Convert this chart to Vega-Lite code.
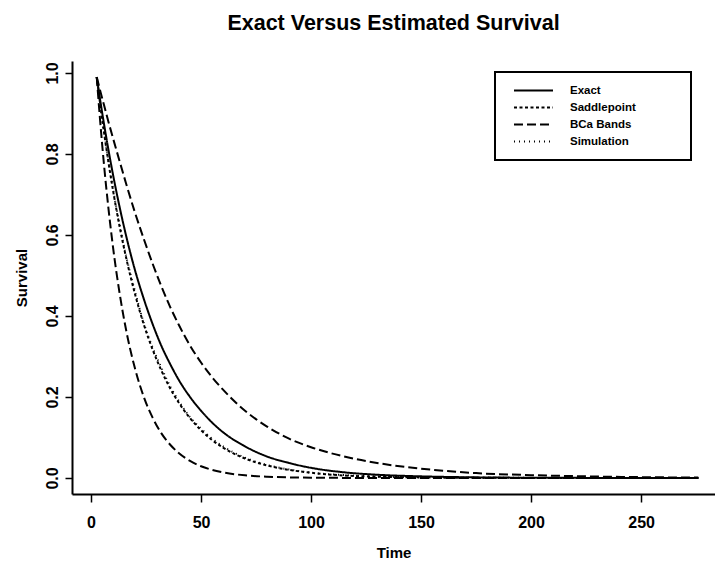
{
  "$schema": "https://vega.github.io/schema/vega-lite/v6.json",
  "width": 643,
  "height": 433,
  "autosize": {"type": "none"},
  "padding": {"left": 72, "top": 61, "right": 0, "bottom": 70},
  "background": "white",
  "title": {
    "text": "Exact Versus Estimated Survival",
    "font": "Liberation Sans",
    "fontSize": 21.5,
    "fontWeight": "bold",
    "color": "black",
    "anchor": "middle",
    "frame": "group",
    "baseline": "alphabetic",
    "offset": 10
  },
  "config": {
    "view": {"stroke": null},
    "axis": {
      "labelFont": "Liberation Sans",
      "titleFont": "Liberation Sans",
      "labelColor": "black",
      "titleColor": "black",
      "domainColor": "black",
      "tickColor": "black",
      "labelFontWeight": "bold",
      "titleFontWeight": "bold",
      "grid": false
    }
  },
  "datasets": {
    "curves": [
      {"time": 2.6, "survival": 0.99, "series": "Exact", "curve": "Exact"},
      {"time": 4, "survival": 0.939, "series": "Exact", "curve": "Exact"},
      {"time": 6, "survival": 0.871, "series": "Exact", "curve": "Exact"},
      {"time": 8, "survival": 0.808, "series": "Exact", "curve": "Exact"},
      {"time": 10, "survival": 0.749, "series": "Exact", "curve": "Exact"},
      {"time": 13, "survival": 0.669, "series": "Exact", "curve": "Exact"},
      {"time": 16, "survival": 0.597, "series": "Exact", "curve": "Exact"},
      {"time": 20, "survival": 0.513, "series": "Exact", "curve": "Exact"},
      {"time": 24, "survival": 0.442, "series": "Exact", "curve": "Exact"},
      {"time": 28, "survival": 0.38, "series": "Exact", "curve": "Exact"},
      {"time": 32, "survival": 0.326, "series": "Exact", "curve": "Exact"},
      {"time": 36, "survival": 0.281, "series": "Exact", "curve": "Exact"},
      {"time": 40, "survival": 0.241, "series": "Exact", "curve": "Exact"},
      {"time": 45, "survival": 0.2, "series": "Exact", "curve": "Exact"},
      {"time": 50, "survival": 0.166, "series": "Exact", "curve": "Exact"},
      {"time": 55, "survival": 0.137, "series": "Exact", "curve": "Exact"},
      {"time": 60, "survival": 0.113, "series": "Exact", "curve": "Exact"},
      {"time": 70, "survival": 0.078, "series": "Exact", "curve": "Exact"},
      {"time": 80, "survival": 0.053, "series": "Exact", "curve": "Exact"},
      {"time": 90, "survival": 0.037, "series": "Exact", "curve": "Exact"},
      {"time": 100, "survival": 0.025, "series": "Exact", "curve": "Exact"},
      {"time": 115, "survival": 0.014, "series": "Exact", "curve": "Exact"},
      {"time": 130, "survival": 0.008, "series": "Exact", "curve": "Exact"},
      {"time": 150, "survival": 0.004, "series": "Exact", "curve": "Exact"},
      {"time": 175, "survival": 0.0015, "series": "Exact", "curve": "Exact"},
      {"time": 200, "survival": 0.0006, "series": "Exact", "curve": "Exact"},
      {"time": 225, "survival": 0.0002, "series": "Exact", "curve": "Exact"},
      {"time": 250, "survival": 0.0001, "series": "Exact", "curve": "Exact"},
      {"time": 276, "survival": 0.0, "series": "Exact", "curve": "Exact"},

      {"time": 2.6, "survival": 0.99, "series": "Saddlepoint", "curve": "Saddlepoint"},
      {"time": 4, "survival": 0.93, "series": "Saddlepoint", "curve": "Saddlepoint"},
      {"time": 6, "survival": 0.85, "series": "Saddlepoint", "curve": "Saddlepoint"},
      {"time": 8, "survival": 0.777, "series": "Saddlepoint", "curve": "Saddlepoint"},
      {"time": 10, "survival": 0.71, "series": "Saddlepoint", "curve": "Saddlepoint"},
      {"time": 13, "survival": 0.621, "series": "Saddlepoint", "curve": "Saddlepoint"},
      {"time": 16, "survival": 0.543, "series": "Saddlepoint", "curve": "Saddlepoint"},
      {"time": 20, "survival": 0.454, "series": "Saddlepoint", "curve": "Saddlepoint"},
      {"time": 24, "survival": 0.379, "series": "Saddlepoint", "curve": "Saddlepoint"},
      {"time": 28, "survival": 0.317, "series": "Saddlepoint", "curve": "Saddlepoint"},
      {"time": 32, "survival": 0.265, "series": "Saddlepoint", "curve": "Saddlepoint"},
      {"time": 36, "survival": 0.221, "series": "Saddlepoint", "curve": "Saddlepoint"},
      {"time": 40, "survival": 0.185, "series": "Saddlepoint", "curve": "Saddlepoint"},
      {"time": 45, "survival": 0.148, "series": "Saddlepoint", "curve": "Saddlepoint"},
      {"time": 50, "survival": 0.118, "series": "Saddlepoint", "curve": "Saddlepoint"},
      {"time": 55, "survival": 0.094, "series": "Saddlepoint", "curve": "Saddlepoint"},
      {"time": 60, "survival": 0.075, "series": "Saddlepoint", "curve": "Saddlepoint"},
      {"time": 70, "survival": 0.048, "series": "Saddlepoint", "curve": "Saddlepoint"},
      {"time": 80, "survival": 0.031, "series": "Saddlepoint", "curve": "Saddlepoint"},
      {"time": 90, "survival": 0.02, "series": "Saddlepoint", "curve": "Saddlepoint"},
      {"time": 100, "survival": 0.013, "series": "Saddlepoint", "curve": "Saddlepoint"},
      {"time": 115, "survival": 0.006, "series": "Saddlepoint", "curve": "Saddlepoint"},
      {"time": 130, "survival": 0.0033, "series": "Saddlepoint", "curve": "Saddlepoint"},
      {"time": 150, "survival": 0.0013, "series": "Saddlepoint", "curve": "Saddlepoint"},
      {"time": 175, "survival": 0.0004, "series": "Saddlepoint", "curve": "Saddlepoint"},
      {"time": 200, "survival": 0.0001, "series": "Saddlepoint", "curve": "Saddlepoint"},
      {"time": 225, "survival": 0.0, "series": "Saddlepoint", "curve": "Saddlepoint"},
      {"time": 250, "survival": 0.0, "series": "Saddlepoint", "curve": "Saddlepoint"},
      {"time": 276, "survival": 0.0, "series": "Saddlepoint", "curve": "Saddlepoint"},

      {"time": 2.6, "survival": 0.99, "series": "BCa Bands", "curve": "BCa lower"},
      {"time": 4, "survival": 0.892, "series": "BCa Bands", "curve": "BCa lower"},
      {"time": 6, "survival": 0.768, "series": "BCa Bands", "curve": "BCa lower"},
      {"time": 8, "survival": 0.662, "series": "BCa Bands", "curve": "BCa lower"},
      {"time": 10, "survival": 0.57, "series": "BCa Bands", "curve": "BCa lower"},
      {"time": 13, "survival": 0.456, "series": "BCa Bands", "curve": "BCa lower"},
      {"time": 16, "survival": 0.364, "series": "BCa Bands", "curve": "BCa lower"},
      {"time": 20, "survival": 0.27, "series": "BCa Bands", "curve": "BCa lower"},
      {"time": 24, "survival": 0.2, "series": "BCa Bands", "curve": "BCa lower"},
      {"time": 28, "survival": 0.149, "series": "BCa Bands", "curve": "BCa lower"},
      {"time": 32, "survival": 0.11, "series": "BCa Bands", "curve": "BCa lower"},
      {"time": 36, "survival": 0.082, "series": "BCa Bands", "curve": "BCa lower"},
      {"time": 40, "survival": 0.061, "series": "BCa Bands", "curve": "BCa lower"},
      {"time": 45, "survival": 0.042, "series": "BCa Bands", "curve": "BCa lower"},
      {"time": 50, "survival": 0.029, "series": "BCa Bands", "curve": "BCa lower"},
      {"time": 55, "survival": 0.02, "series": "BCa Bands", "curve": "BCa lower"},
      {"time": 60, "survival": 0.0137, "series": "BCa Bands", "curve": "BCa lower"},
      {"time": 70, "survival": 0.0065, "series": "BCa Bands", "curve": "BCa lower"},
      {"time": 80, "survival": 0.0031, "series": "BCa Bands", "curve": "BCa lower"},
      {"time": 90, "survival": 0.0015, "series": "BCa Bands", "curve": "BCa lower"},
      {"time": 100, "survival": 0.0007, "series": "BCa Bands", "curve": "BCa lower"},
      {"time": 115, "survival": 0.0002, "series": "BCa Bands", "curve": "BCa lower"},
      {"time": 130, "survival": 0.0001, "series": "BCa Bands", "curve": "BCa lower"},
      {"time": 150, "survival": 0.0, "series": "BCa Bands", "curve": "BCa lower"},
      {"time": 175, "survival": 0.0, "series": "BCa Bands", "curve": "BCa lower"},
      {"time": 200, "survival": 0.0, "series": "BCa Bands", "curve": "BCa lower"},
      {"time": 225, "survival": 0.0, "series": "BCa Bands", "curve": "BCa lower"},
      {"time": 250, "survival": 0.0, "series": "BCa Bands", "curve": "BCa lower"},
      {"time": 276, "survival": 0.0, "series": "BCa Bands", "curve": "BCa lower"},

      {"time": 2.6, "survival": 0.99, "series": "BCa Bands", "curve": "BCa upper"},
      {"time": 4, "survival": 0.96, "series": "BCa Bands", "curve": "BCa upper"},
      {"time": 6, "survival": 0.919, "series": "BCa Bands", "curve": "BCa upper"},
      {"time": 8, "survival": 0.878, "series": "BCa Bands", "curve": "BCa upper"},
      {"time": 10, "survival": 0.839, "series": "BCa Bands", "curve": "BCa upper"},
      {"time": 13, "survival": 0.782, "series": "BCa Bands", "curve": "BCa upper"},
      {"time": 16, "survival": 0.726, "series": "BCa Bands", "curve": "BCa upper"},
      {"time": 20, "survival": 0.655, "series": "BCa Bands", "curve": "BCa upper"},
      {"time": 24, "survival": 0.59, "series": "BCa Bands", "curve": "BCa upper"},
      {"time": 28, "survival": 0.529, "series": "BCa Bands", "curve": "BCa upper"},
      {"time": 32, "survival": 0.473, "series": "BCa Bands", "curve": "BCa upper"},
      {"time": 36, "survival": 0.422, "series": "BCa Bands", "curve": "BCa upper"},
      {"time": 40, "survival": 0.377, "series": "BCa Bands", "curve": "BCa upper"},
      {"time": 45, "survival": 0.327, "series": "BCa Bands", "curve": "BCa upper"},
      {"time": 50, "survival": 0.285, "series": "BCa Bands", "curve": "BCa upper"},
      {"time": 55, "survival": 0.249, "series": "BCa Bands", "curve": "BCa upper"},
      {"time": 60, "survival": 0.218, "series": "BCa Bands", "curve": "BCa upper"},
      {"time": 70, "survival": 0.166, "series": "BCa Bands", "curve": "BCa upper"},
      {"time": 80, "survival": 0.127, "series": "BCa Bands", "curve": "BCa upper"},
      {"time": 90, "survival": 0.097, "series": "BCa Bands", "curve": "BCa upper"},
      {"time": 100, "survival": 0.076, "series": "BCa Bands", "curve": "BCa upper"},
      {"time": 115, "survival": 0.053, "series": "BCa Bands", "curve": "BCa upper"},
      {"time": 130, "survival": 0.037, "series": "BCa Bands", "curve": "BCa upper"},
      {"time": 150, "survival": 0.023, "series": "BCa Bands", "curve": "BCa upper"},
      {"time": 175, "survival": 0.012, "series": "BCa Bands", "curve": "BCa upper"},
      {"time": 200, "survival": 0.007, "series": "BCa Bands", "curve": "BCa upper"},
      {"time": 225, "survival": 0.004, "series": "BCa Bands", "curve": "BCa upper"},
      {"time": 250, "survival": 0.002, "series": "BCa Bands", "curve": "BCa upper"},
      {"time": 276, "survival": 0.001, "series": "BCa Bands", "curve": "BCa upper"},

      {"time": 2.6, "survival": 0.99, "series": "Simulation", "curve": "Simulation"},
      {"time": 4, "survival": 0.931, "series": "Simulation", "curve": "Simulation"},
      {"time": 6, "survival": 0.852, "series": "Simulation", "curve": "Simulation"},
      {"time": 8, "survival": 0.78, "series": "Simulation", "curve": "Simulation"},
      {"time": 10, "survival": 0.714, "series": "Simulation", "curve": "Simulation"},
      {"time": 13, "survival": 0.625, "series": "Simulation", "curve": "Simulation"},
      {"time": 16, "survival": 0.547, "series": "Simulation", "curve": "Simulation"},
      {"time": 20, "survival": 0.461, "series": "Simulation", "curve": "Simulation"},
      {"time": 24, "survival": 0.382, "series": "Simulation", "curve": "Simulation"},
      {"time": 28, "survival": 0.322, "series": "Simulation", "curve": "Simulation"},
      {"time": 32, "survival": 0.272, "series": "Simulation", "curve": "Simulation"},
      {"time": 36, "survival": 0.226, "series": "Simulation", "curve": "Simulation"},
      {"time": 40, "survival": 0.189, "series": "Simulation", "curve": "Simulation"},
      {"time": 45, "survival": 0.15, "series": "Simulation", "curve": "Simulation"},
      {"time": 50, "survival": 0.122, "series": "Simulation", "curve": "Simulation"},
      {"time": 55, "survival": 0.097, "series": "Simulation", "curve": "Simulation"},
      {"time": 60, "survival": 0.078, "series": "Simulation", "curve": "Simulation"},
      {"time": 70, "survival": 0.05, "series": "Simulation", "curve": "Simulation"},
      {"time": 80, "survival": 0.032, "series": "Simulation", "curve": "Simulation"},
      {"time": 90, "survival": 0.021, "series": "Simulation", "curve": "Simulation"},
      {"time": 100, "survival": 0.013, "series": "Simulation", "curve": "Simulation"},
      {"time": 115, "survival": 0.007, "series": "Simulation", "curve": "Simulation"},
      {"time": 130, "survival": 0.0035, "series": "Simulation", "curve": "Simulation"},
      {"time": 150, "survival": 0.0015, "series": "Simulation", "curve": "Simulation"},
      {"time": 175, "survival": 0.0005, "series": "Simulation", "curve": "Simulation"},
      {"time": 200, "survival": 0.0002, "series": "Simulation", "curve": "Simulation"},
      {"time": 225, "survival": 0.0, "series": "Simulation", "curve": "Simulation"},
      {"time": 250, "survival": 0.0, "series": "Simulation", "curve": "Simulation"},
      {"time": 276, "survival": 0.0, "series": "Simulation", "curve": "Simulation"}
    ]
  },
  "layer": [
    {
      "data": {"name": "curves"},
      "mark": {"type": "line", "color": "black", "strokeWidth": 2, "clip": true, "interpolate": "monotone"},
      "encoding": {
        "x": {
          "field": "time",
          "type": "quantitative",
          "scale": {"domain": [-8.64, 283.6], "nice": false, "zero": false},
          "axis": {
            "values": [0, 50, 100, 150, 200, 250],
            "title": "Time",
            "titleFontSize": 15,
            "titleY": 58,
            "titleBaseline": "middle",
            "labelFontSize": 16,
            "labelPadding": 12,
            "tickSize": 8,
            "tickWidth": 1.5,
            "domainWidth": 2,
            "labelFlush": false,
            "labelOverlap": false
          }
        },
        "y": {
          "field": "survival",
          "type": "quantitative",
          "scale": {"domain": [-0.0396, 1.0296], "nice": false, "zero": false},
          "axis": {
            "values": [0, 0.2, 0.4, 0.6, 0.8, 1.0],
            "format": ".1f",
            "title": "Survival",
            "titleFontSize": 15,
            "titleX": -50.5,
            "titleBaseline": "middle",
            "labelAngle": 270,
            "labelAlign": "center",
            "labelBaseline": "bottom",
            "labelFontSize": 16,
            "labelPadding": 5,
            "tickSize": 7,
            "tickWidth": 1.5,
            "domainWidth": 2,
            "labelFlush": false,
            "labelOverlap": false
          }
        },
        "detail": {"field": "curve"},
        "strokeDash": {
          "field": "series",
          "type": "nominal",
          "scale": {
            "domain": ["Exact", "Saddlepoint", "BCa Bands", "Simulation"],
            "range": [[1, 0], [3, 2.5], [9, 4], [1, 4]]
          },
          "legend": {
            "orient": "none",
            "legendX": 423,
            "legendY": 11,
            "title": " ",
            "titleOrient": "right",
            "titleFontSize": 1,
            "titlePadding": 44.5,
            "symbolType": "stroke",
            "symbolSize": 1521,
            "symbolStrokeWidth": 2,
            "symbolStrokeColor": "black",
            "symbolOffset": 8,
            "labelOffset": 16,
            "labelFont": "Liberation Sans",
            "labelFontSize": 11.5,
            "labelFontWeight": "bold",
            "labelColor": "black",
            "padding": 10,
            "clipHeight": 17,
            "rowPadding": 0,
            "strokeColor": "black",
            "fillColor": "white",
            "encode": {"legend": {"update": {"strokeWidth": {"value": 2}}}}
          }
        }
      }
    },
    {
      "mark": {"type": "rule", "color": "black", "strokeWidth": 2},
      "encoding": {"y": {"datum": 1.0296}}
    }
  ]
}
